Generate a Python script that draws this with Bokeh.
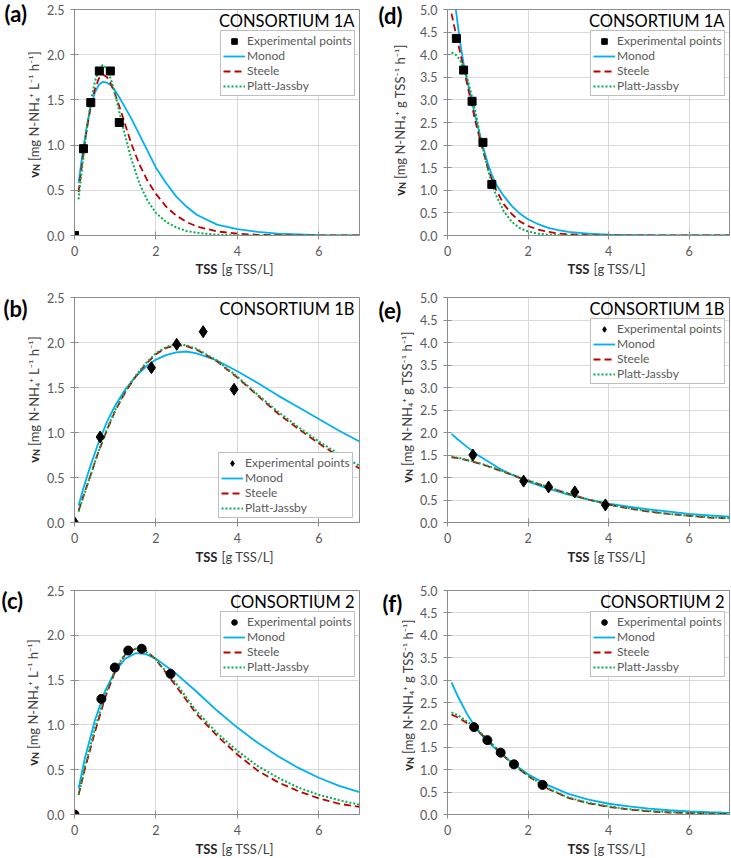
import math
from bokeh.plotting import figure
from bokeh.models import Range1d, FixedTicker, Label, Legend, LegendItem, PrintfTickFormatter
from bokeh.layouts import row, column
from bokeh.embed import file_html
from bokeh.resources import INLINE

# ---------------- data ----------------
# Panel (a) – Consortium 1A, volumetric rate
a_pts_x = [0, 0.22, 0.40, 0.61, 0.88, 1.10]
a_pts_y = [0, 0.96, 1.47, 1.82, 1.82, 1.25]
a_x = [0.1, 0.2, 0.3, 0.4, 0.5, 0.6, 0.7, 0.8, 0.9, 1.0, 1.1, 1.2, 1.4, 1.6, 1.8, 2.0, 2.25, 2.5, 2.75, 3.0, 3.5, 4.0, 4.5, 5.0, 6.0, 7.0]
a_monod = [0.58, 0.92, 1.20, 1.43, 1.58, 1.67, 1.70, 1.69, 1.66, 1.60, 1.53, 1.45, 1.29, 1.11, 0.93, 0.75, 0.58, 0.43, 0.32, 0.23, 0.12, 0.07, 0.04, 0.02, 0.005, 0.001]
a_steele = [0.48, 0.85, 1.17, 1.43, 1.62, 1.74, 1.78, 1.75, 1.67, 1.56, 1.43, 1.29, 1.01, 0.78, 0.60, 0.46, 0.32, 0.22, 0.15, 0.10, 0.045, 0.02, 0.008, 0.003, 0.0005, 0.0]
a_platt = [0.40, 0.80, 1.17, 1.48, 1.70, 1.84, 1.89, 1.84, 1.72, 1.56, 1.37, 1.18, 0.84, 0.57, 0.38, 0.25, 0.15, 0.09, 0.05, 0.03, 0.008, 0.002, 0.0, 0.0, 0.0, 0.0]

# Panel (d) – Consortium 1A, specific rate
d_pts_x = [0.22, 0.40, 0.61, 0.88, 1.10]
d_pts_y = [4.36, 3.66, 2.97, 2.06, 1.13]
d_x = [0.1, 0.15, 0.2, 0.3, 0.4, 0.5, 0.6, 0.7, 0.8, 0.9, 1.0, 1.1, 1.2, 1.4, 1.6, 1.8, 2.0, 2.25, 2.5, 2.75, 3.0, 3.5, 4.0, 4.5, 5.0, 6.0, 7.0]
d_monod = [6.5, 5.7, 5.05, 4.35, 3.80, 3.38, 2.98, 2.60, 2.24, 1.90, 1.60, 1.34, 1.14, 0.87, 0.65, 0.48, 0.36, 0.25, 0.17, 0.12, 0.08, 0.04, 0.02, 0.01, 0.005, 0.001, 0.0]
d_steele = [4.91, 4.70, 4.50, 4.10, 3.70, 3.30, 2.90, 2.50, 2.15, 1.82, 1.50, 1.24, 1.02, 0.69, 0.47, 0.31, 0.21, 0.13, 0.08, 0.045, 0.025, 0.008, 0.002, 0.0, 0.0, 0.0, 0.0]
d_platt = [4.05, 4.03, 4.00, 3.90, 3.72, 3.45, 3.10, 2.70, 2.25, 1.85, 1.47, 1.15, 0.90, 0.53, 0.30, 0.16, 0.09, 0.04, 0.018, 0.008, 0.003, 0.0, 0.0, 0.0, 0.0, 0.0, 0.0]

# Panel (b) – Consortium 1B, volumetric rate
b_pts_x = [0, 0.63, 1.89, 2.51, 3.16, 3.92]
b_pts_y = [0, 0.95, 1.72, 1.98, 2.12, 1.48]
b_x = [0.1, 0.2, 0.3, 0.4, 0.5, 0.6, 0.8, 1.0, 1.25, 1.5, 1.75, 2.0, 2.25, 2.5, 2.75, 3.0, 3.5, 4.0, 4.5, 5.0, 5.5, 6.0, 6.5, 7.0]
b_monod = [0.19, 0.35, 0.50, 0.64, 0.77, 0.90, 1.12, 1.30, 1.48, 1.62, 1.73, 1.81, 1.86, 1.89, 1.90, 1.88, 1.80, 1.68, 1.55, 1.41, 1.28, 1.15, 1.02, 0.90]
b_steele = [0.13, 0.27, 0.40, 0.53, 0.67, 0.80, 1.03, 1.24, 1.45, 1.62, 1.76, 1.87, 1.94, 1.97, 1.96, 1.92, 1.79, 1.61, 1.41, 1.21, 1.04, 0.88, 0.73, 0.60]
b_platt = [0.12, 0.26, 0.40, 0.53, 0.67, 0.80, 1.04, 1.25, 1.46, 1.63, 1.77, 1.88, 1.95, 1.98, 1.97, 1.93, 1.80, 1.62, 1.42, 1.23, 1.06, 0.90, 0.76, 0.63]

# Panel (e) – Consortium 1B, specific rate
e_pts_x = [0.63, 1.89, 2.51, 3.16, 3.92]
e_pts_y = [1.50, 0.92, 0.79, 0.68, 0.39]
e_x = [0.1, 0.25, 0.5, 0.75, 1.0, 1.25, 1.5, 1.75, 2.0, 2.5, 3.0, 3.5, 4.0, 4.5, 5.0, 5.5, 6.0, 6.5, 7.0]
e_monod = [1.97, 1.85, 1.67, 1.50, 1.36, 1.22, 1.10, 1.00, 0.91, 0.75, 0.62, 0.51, 0.42, 0.35, 0.29, 0.24, 0.19, 0.16, 0.13]
e_steele = [1.45, 1.43, 1.38, 1.32, 1.25, 1.17, 1.09, 1.01, 0.93, 0.78, 0.64, 0.51, 0.40, 0.31, 0.24, 0.19, 0.15, 0.11, 0.09]
e_platt = [1.47, 1.44, 1.39, 1.33, 1.26, 1.18, 1.10, 1.02, 0.94, 0.79, 0.64, 0.51, 0.40, 0.32, 0.25, 0.19, 0.15, 0.12, 0.095]

# Panel (c) – Consortium 2, volumetric rate
c_pts_x = [0, 0.66, 0.99, 1.32, 1.65, 2.36]
c_pts_y = [0, 1.29, 1.64, 1.83, 1.85, 1.57]
c_x = [0.1, 0.25, 0.5, 0.75, 1.0, 1.25, 1.5, 1.75, 2.0, 2.5, 3.0, 3.5, 4.0, 4.5, 5.0, 5.5, 6.0, 6.5, 7.0]
c_monod = [0.29, 0.62, 1.05, 1.38, 1.60, 1.74, 1.80, 1.79, 1.74, 1.57, 1.37, 1.16, 0.97, 0.80, 0.65, 0.52, 0.41, 0.32, 0.25]
c_steele = [0.22, 0.50, 0.92, 1.30, 1.60, 1.79, 1.85, 1.83, 1.73, 1.43, 1.12, 0.88, 0.67, 0.49, 0.36, 0.26, 0.18, 0.12, 0.085]
c_platt = [0.22, 0.52, 0.96, 1.33, 1.62, 1.80, 1.85, 1.82, 1.73, 1.46, 1.15, 0.91, 0.71, 0.54, 0.41, 0.30, 0.22, 0.16, 0.11]

# Panel (f) – Consortium 2, specific rate
f_pts_x = [0.66, 0.99, 1.32, 1.65, 2.36]
f_pts_y = [1.95, 1.66, 1.38, 1.12, 0.66]
f_x = [0.1, 0.25, 0.5, 0.75, 1.0, 1.25, 1.5, 1.75, 2.0, 2.5, 3.0, 3.5, 4.0, 4.5, 5.0, 5.5, 6.0, 6.5, 7.0]
f_monod = [2.95, 2.65, 2.22, 1.87, 1.62, 1.42, 1.23, 1.06, 0.90, 0.65, 0.46, 0.33, 0.24, 0.18, 0.13, 0.095, 0.07, 0.05, 0.035]
f_steele = [2.23, 2.17, 2.03, 1.87, 1.66, 1.44, 1.22, 1.03, 0.86, 0.57, 0.37, 0.25, 0.17, 0.11, 0.07, 0.045, 0.03, 0.02, 0.012]
f_platt = [2.28, 2.22, 2.07, 1.89, 1.67, 1.45, 1.23, 1.04, 0.87, 0.58, 0.38, 0.26, 0.18, 0.12, 0.08, 0.055, 0.037, 0.025, 0.016]

x_ticks = [0, 2, 4, 6]
y_ticks_vol = [0, 0.5, 1.0, 1.5, 2.0, 2.5]
y_ticks_spec = [0, 0.5, 1.0, 1.5, 2.0, 2.5, 3.0, 3.5, 4.0, 4.5, 5.0]
series_names = ["Experimental points", "Monod", "Steele", "Platt-Jassby"]

FONT = "Lato"
MONOD_C = "#00B0F0"
STEELE_C = "#C00000"
PLATT_C = "#00B050"
YL_VOL = "[mg N-NH\u2084\u207a L\u207b\u00b9 h\u207b\u00b9]"
YL_SPEC = "[mg N-NH\u2084\u207a g TSS\u207b\u00b9 h\u207b\u00b9]"


def strip(w, h):
    s = figure(width=w, height=h, x_range=Range1d(0, 1), y_range=Range1d(0, 1),
               output_backend="svg", toolbar_location=None, title=None,
               x_axis_location=None, y_axis_location=None, min_border=0)
    s.min_border_left = 0
    s.min_border_right = 0
    s.min_border_top = 0
    s.min_border_bottom = 0
    s.outline_line_color = None
    s.background_fill_color = "white"
    s.border_fill_color = "white"
    for g in s.grid:
        g.visible = False
    return s


def panel(letter, title, px, py, marker, msize, cx, mon, ste, pj, ymax, yticks, ylab,
          wy, wm, H, bl, br, bt, fh, bb, letter_x, letter_y, ylab_x, vbot_y, xlab_y,
          xlab_anchor, legend_pos):
    fw = wm - bl - br
    hm = bt + fh + bb
    hx = H - hm
    p = figure(width=wm, height=hm, x_range=Range1d(0, 7), y_range=Range1d(0, ymax),
               output_backend="svg", toolbar_location=None, title=None,
               min_border_left=bl, min_border_right=br, min_border_top=bt, min_border_bottom=bb)
    p.background_fill_color = "white"
    p.border_fill_color = "white"
    p.outline_line_color = "#8c8c8c"
    p.outline_line_width = 1
    p.xaxis.ticker = FixedTicker(ticks=x_ticks)
    p.yaxis.ticker = FixedTicker(ticks=yticks)
    p.yaxis.formatter = PrintfTickFormatter(format="%.1f")
    for ax in (p.xaxis[0], p.yaxis[0]):
        ax.axis_line_color = "#8c8c8c"
        ax.major_tick_line_color = "#8c8c8c"
        ax.major_tick_in = 4
        ax.major_tick_out = 4
        ax.minor_tick_line_color = None
        ax.major_label_text_font = FONT
        ax.major_label_text_font_size = "12.5px"
        ax.major_label_text_color = "#595959"
    p.xaxis.major_label_standoff = 6
    p.yaxis.major_label_standoff = 6
    p.xgrid.grid_line_color = "#d9d9d9"
    p.ygrid.grid_line_color = "#d9d9d9"

    r_m = p.line(cx, mon, line_color=MONOD_C, line_width=1.8)
    r_s = p.line(cx, ste, line_color=STEELE_C, line_width=1.8, line_dash="7 4")
    r_p = p.line(cx, pj, line_color=PLATT_C, line_width=2.0, line_dash="2 2")
    r_pts = p.scatter(px, py, marker=marker, size=msize, fill_color="black", line_color="black")

    legend = Legend(items=[LegendItem(label=series_names[0], renderers=[r_pts]),
                           LegendItem(label=series_names[1], renderers=[r_m]),
                           LegendItem(label=series_names[2], renderers=[r_s]),
                           LegendItem(label=series_names[3], renderers=[r_p])])
    legend.label_text_font = FONT
    legend.label_text_font_size = "12px"
    legend.label_text_color = "#595959"
    legend.glyph_width = 22
    legend.glyph_height = 14
    legend.label_height = 14
    legend.label_standoff = 2
    legend.spacing = 0
    legend.padding = 2
    legend.margin = 0
    legend.border_line_color = "#7f7f7f"
    legend.border_line_width = 1
    legend.background_fill_color = "white"
    legend.background_fill_alpha = 1.0
    LW, LH = 138, 62
    if legend_pos == "top":
        legend.location = (fw - 3 - LW, fh - 25 - LH)
    else:
        legend.location = (fw - 5 - LW, 4)
    p.add_layout(legend, "center")

    # consortium title (inside the plot area)
    p.add_layout(Label(x=fw - 7, y=fh - 11, x_units="screen", y_units="screen",
                       text=title, text_font=FONT, text_font_size="16.5px",
                       text_color="black", text_align="right", text_baseline="alphabetic"))

    # strip left of the plot: panel letter and y-axis title
    ys = strip(wy, H)
    ys.add_layout(Label(x=letter_x, y=letter_y + 7, x_units="screen", y_units="screen",
                        text=letter, text_font=FONT, text_font_style="bold",
                        text_font_size="22px", text_color="black",
                        text_align="left", text_baseline="alphabetic"))
    rot = math.pi / 2
    A = vbot_y + 16.5
    ys.add_layout(Label(x=ylab_x, y=A - 10, x_units="screen", y_units="screen", text="v",
                        angle=rot, text_font=FONT, text_font_style="bold", text_font_size="13px",
                        text_color="#262626", text_align="right", text_baseline="middle"))
    ys.add_layout(Label(x=ylab_x + 3, y=A - 3, x_units="screen", y_units="screen", text="N",
                        angle=rot, text_font=FONT, text_font_style="bold", text_font_size="9px",
                        text_color="#262626", text_align="right", text_baseline="middle"))
    ys.add_layout(Label(x=ylab_x, y=A, x_units="screen", y_units="screen", text=ylab,
                        angle=rot, text_font=FONT, text_font_size="13px",
                        text_color="#404040", text_align="left", text_baseline="middle"))

    # strip below the plot: x-axis title
    xs = strip(wm, hx)
    xs.add_layout(Label(x=xlab_anchor, y=xlab_y, x_units="screen", y_units="screen", text="TSS",
                        text_font=FONT, text_font_style="bold", text_font_size="13px",
                        text_color="#262626", text_align="right", text_baseline="middle"))
    xs.add_layout(Label(x=xlab_anchor + 4, y=xlab_y, x_units="screen", y_units="screen",
                        text="[g TSS/L]", text_font=FONT, text_font_size="13px",
                        text_color="#404040", text_align="left", text_baseline="middle"))
    return row(ys, column(p, xs))


C1 = dict(wy=44, wm=321, bl=28, br=6, xlab_anchor=143)
C2 = dict(wy=52, wm=313, bl=28, br=1, xlab_anchor=142)
R1 = dict(H=287, bt=9, fh=226, bb=26, xlab_y=19)
R2 = dict(H=287, bt=10, fh=225, bb=26, xlab_y=18)
R3 = dict(H=282, bt=16, fh=224, bb=26, xlab_y=8)

pa = panel("(a)", "CONSORTIUM 1A", a_pts_x, a_pts_y, "square", 8, a_x, a_monod, a_steele, a_platt,
           2.5, y_ticks_vol, YL_VOL, letter_x=4, letter_y=267, ylab_x=33, vbot_y=110,
           legend_pos="top", **C1, **R1)
pd_ = panel("(d)", "CONSORTIUM 1A", d_pts_x, d_pts_y, "square", 8, d_x, d_monod, d_steele, d_platt,
            5.0, y_ticks_spec, YL_SPEC, letter_x=13, letter_y=265, ylab_x=34, vbot_y=92,
            legend_pos="top", **C2, **R1)
pb = panel("(b)", "CONSORTIUM 1B", b_pts_x, b_pts_y, "diamond", 12, b_x, b_monod, b_steele, b_platt,
           2.5, y_ticks_vol, YL_VOL, letter_x=3, letter_y=259, ylab_x=33, vbot_y=112,
           legend_pos="bottom", **C1, **R2)
pe = panel("(e)", "CONSORTIUM 1B", e_pts_x, e_pts_y, "diamond", 12, e_x, e_monod, e_steele, e_platt,
           5.0, y_ticks_spec, YL_SPEC, letter_x=13, letter_y=257, ylab_x=41, vbot_y=92,
           legend_pos="top", **C2, **R2)
pc = panel("(c)", "CONSORTIUM 2", c_pts_x, c_pts_y, "circle", 9, c_x, c_monod, c_steele, c_platt,
           2.5, y_ticks_vol, YL_VOL, letter_x=1, letter_y=249, ylab_x=32, vbot_y=91,
           legend_pos="top", **C1, **R3)
pf = panel("(f)", "CONSORTIUM 2", f_pts_x, f_pts_y, "circle", 9, f_x, f_monod, f_steele, f_platt,
           5.0, y_ticks_spec, YL_SPEC, letter_x=17, letter_y=246, ylab_x=42, vbot_y=86,
           legend_pos="top", **C2, **R3)

page = column(row(pa, pd_), row(pb, pe), row(pc, pf))

open("out.html", "w").write(file_html(page, INLINE))
